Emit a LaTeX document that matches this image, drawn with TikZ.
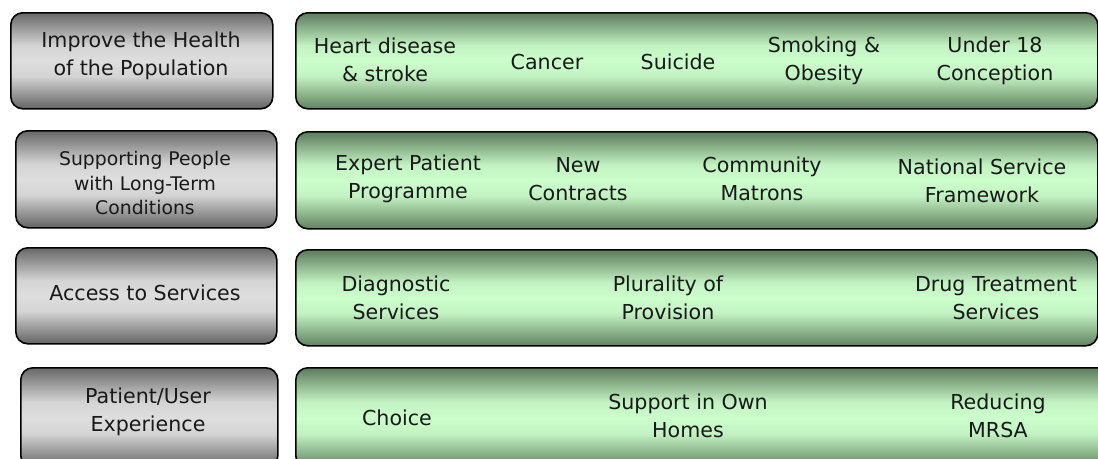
\documentclass[tikz,border=0pt]{standalone}
\usepackage{fontspec}
\setmainfont{DejaVu Sans}
\definecolor{gA}{HTML}{6E6E6E}
\definecolor{gB}{HTML}{D4D4D4}
\definecolor{gC}{HTML}{DEDEDE}
\definecolor{gD}{HTML}{6A6A6A}
\definecolor{nA}{HTML}{628262}
\definecolor{nB}{HTML}{C2F2C2}
\definecolor{nC}{HTML}{CCFFCC}
\definecolor{nD}{HTML}{668866}
% the band from 25bp to 75bp is what fills each shaded path
\pgfdeclareverticalshading{greyband}{100bp}{%
  color(0bp)=(gD); color(26bp)=(gD); color(42bp)=(gB); color(50bp)=(gC);
  color(58bp)=(gB); color(74bp)=(gA); color(100bp)=(gA)}
\pgfdeclareverticalshading{greenband}{100bp}{%
  color(0bp)=(nD); color(26bp)=(nD); color(42bp)=(nB); color(50bp)=(nC);
  color(58bp)=(nB); color(74bp)=(nA); color(100bp)=(nA)}
\tikzset{
  bar/.style={draw=black, line width=1.6pt, rounded corners=12pt,
    inner sep=0pt, anchor=north west},
  greybar/.style={bar, shading=greyband},
  greenbar/.style={bar, shading=greenband},
  lbl/.style={align=center, inner sep=0pt, text=black!90,
    font=\fontsize{20.6}{28}\selectfont},
  small/.style={lbl, font=\fontsize{18.8}{24.5}\selectfont},
}
\begin{document}
\begin{tikzpicture}[x=1pt, y=-1pt]
\useasboundingbox (0,0) rectangle (1098,458);

% left column: the four headings
\node[greybar, minimum width=262pt, minimum height=96pt] (h1) at (10,12) {};
\node[greybar, minimum width=261pt, minimum height=97pt] (h2) at (15,130) {};
\node[greybar, minimum width=261pt, minimum height=96pt] (h3) at (15,247) {};
\node[greybar, minimum width=257pt, minimum height=100pt] (h4) at (20,367) {};

% right column: the bands of topics
\node[greenbar, minimum width=802pt, minimum height=96pt] (b1) at (295,12) {};
\node[greenbar, minimum width=802pt, minimum height=97pt] (b2) at (295,131) {};
\node[greenbar, minimum width=802pt, minimum height=96pt] (b3) at (295,249) {};
\node[greenbar, minimum width=830pt, minimum height=100pt] (b4) at (295,367) {};

% heading texts
\node[lbl]   (t1) at (141,56)  {Improve the Health\\of the Population};
\node[small] (t2) at (145,183) {Supporting People\\with Long-Term\\Conditions};
\node[lbl]   (t3) at (145,293) {Access to Services};
\node[lbl]   (t4) at (148,412) {Patient/User\\Experience};

% row 1
\node[lbl] (r1a) at (385,60) {Heart disease\\\& stroke};
\node[lbl] (r1b) at (547,62) {Cancer};
\node[lbl] (r1c) at (678,62) {Suicide};
\node[lbl] (r1d) at (824,61) {Smoking \&\\Obesity};
\node[lbl] (r1e) at (995,61) {Under 18\\Conception};

% row 2
\node[lbl] (r2a) at (408,179) {Expert Patient\\Programme};
\node[lbl] (r2b) at (578,179) {New\\Contracts};
\node[lbl] (r2c) at (762,179) {Community\\Matrons};
\node[lbl] (r2d) at (982,181) {National Service\\Framework};

% row 3
\node[lbl] (r3a) at (396,298) {Diagnostic\\Services};
\node[lbl] (r3b) at (668,298) {Plurality of\\Provision};
\node[lbl] (r3c) at (996,298) {Drug Treatment\\Services};

% row 4
\node[lbl] (r4a) at (397,418) {Choice};
\node[lbl] (r4b) at (688,416) {Support in Own\\Homes};
\node[lbl] (r4c) at (998,416) {Reducing\\MRSA};
\end{tikzpicture}
\end{document}
